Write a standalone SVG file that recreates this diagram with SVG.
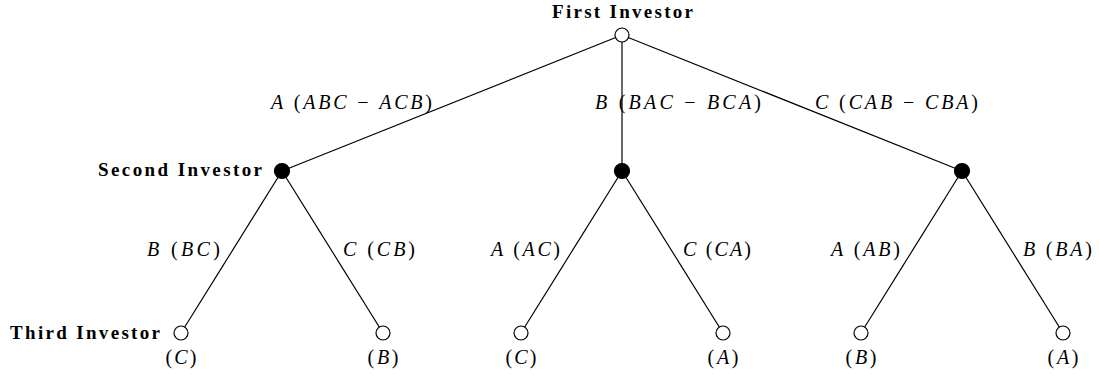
<svg xmlns="http://www.w3.org/2000/svg" width="1099" height="376" viewBox="0 0 1099 376">
<style>
.e{stroke:#000;stroke-width:1.2;fill:none}
.o{fill:#fff;stroke:#000;stroke-width:1.2}
.f{fill:#000;stroke:#000;stroke-width:1.2}
.b{font-family:"Liberation Serif",serif;font-weight:bold;font-size:19px;fill:#000}
.m{font-family:"Liberation Serif",serif;font-size:20px;fill:#000}
.i{font-style:italic}
</style>
<rect width="1099" height="376" fill="#fff"/>
<g id="connectors">
<line class="e" x1="622" y1="35" x2="282" y2="171"/>
<line class="e" x1="622" y1="35" x2="622" y2="171"/>
<line class="e" x1="622" y1="35" x2="962" y2="171"/>
<line class="e" x1="282" y1="171" x2="181" y2="333"/>
<line class="e" x1="282" y1="171" x2="383" y2="333"/>
<line class="e" x1="622" y1="171" x2="521" y2="333"/>
<line class="e" x1="622" y1="171" x2="723" y2="333"/>
<line class="e" x1="962" y1="171" x2="861" y2="333"/>
<line class="e" x1="962" y1="171" x2="1063" y2="333"/>
<text class="m" x="271" y="109" textLength="161"><tspan class="i">A</tspan> (<tspan class="i">ABC</tspan> − <tspan class="i">ACB</tspan>)</text>
<text class="m" x="595" y="109" textLength="166"><tspan class="i">B</tspan> (<tspan class="i">BAC</tspan> − <tspan class="i">BCA</tspan>)</text>
<text class="m" x="815" y="109" textLength="163"><tspan class="i">C</tspan> (<tspan class="i">CAB</tspan> − <tspan class="i">CBA</tspan>)</text>
<text class="m" x="147" y="256" textLength="73"><tspan class="i">B</tspan> (<tspan class="i">BC</tspan>)</text>
<text class="m" x="343" y="256" textLength="72"><tspan class="i">C</tspan> (<tspan class="i">CB</tspan>)</text>
<text class="m" x="491" y="256" textLength="69"><tspan class="i">A</tspan> (<tspan class="i">AC</tspan>)</text>
<text class="m" x="683" y="256" textLength="68"><tspan class="i">C</tspan> (<tspan class="i">CA</tspan>)</text>
<text class="m" x="831" y="256" textLength="69"><tspan class="i">A</tspan> (<tspan class="i">AB</tspan>)</text>
<text class="m" x="1023" y="256" textLength="69"><tspan class="i">B</tspan> (<tspan class="i">BA</tspan>)</text>
</g>
<g id="first-investor">
<circle class="o" cx="622" cy="35" r="7"/>
<text class="b" x="552" y="18" textLength="141">First Investor</text>
</g>
<g id="second-A">
<circle class="f" cx="282" cy="171" r="7.5"/>
<text class="b" x="98" y="176" textLength="164">Second Investor</text>
</g>
<g id="second-B"><circle class="f" cx="622" cy="171" r="7.5"/></g>
<g id="second-C"><circle class="f" cx="962" cy="171" r="7.5"/></g>
<g id="third-AB">
<circle class="o" cx="181" cy="333" r="7"/>
<text class="b" x="10" y="339" textLength="150">Third Investor</text>
<text class="m" x="165.5" y="364" textLength="31">(<tspan class="i">C</tspan>)</text>
</g>
<g id="third-AC">
<circle class="o" cx="383" cy="333" r="7"/>
<text class="m" x="367.5" y="364" textLength="31">(<tspan class="i">B</tspan>)</text>
</g>
<g id="third-BA">
<circle class="o" cx="521" cy="333" r="7"/>
<text class="m" x="505.5" y="364" textLength="31">(<tspan class="i">C</tspan>)</text>
</g>
<g id="third-BC">
<circle class="o" cx="723" cy="333" r="7"/>
<text class="m" x="707.5" y="364" textLength="31">(<tspan class="i">A</tspan>)</text>
</g>
<g id="third-CA">
<circle class="o" cx="861" cy="333" r="7"/>
<text class="m" x="845.5" y="364" textLength="31">(<tspan class="i">B</tspan>)</text>
</g>
<g id="third-CB">
<circle class="o" cx="1063" cy="333" r="7"/>
<text class="m" x="1047.5" y="364" textLength="31">(<tspan class="i">A</tspan>)</text>
</g>
</svg>
